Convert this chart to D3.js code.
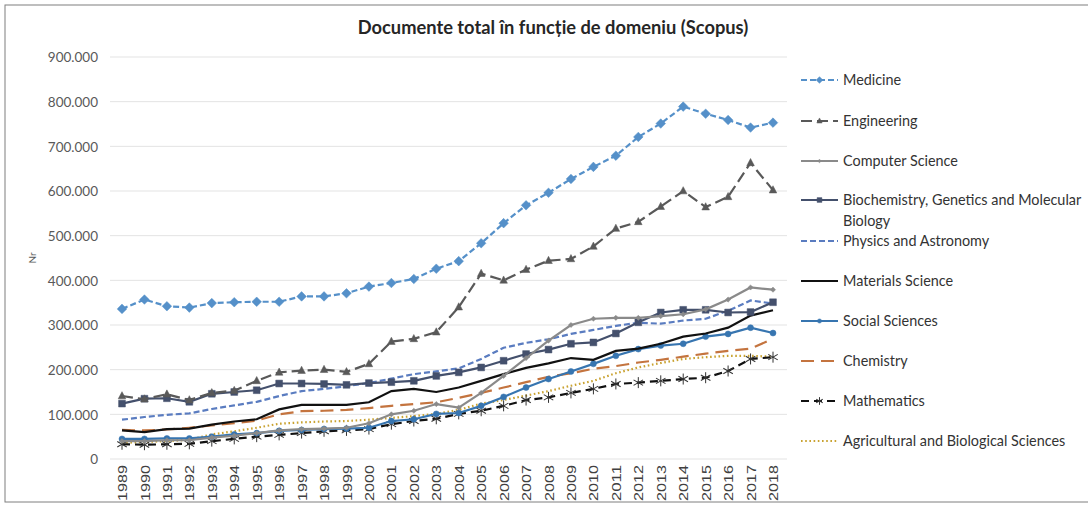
<!DOCTYPE html>
<html>
<head>
<meta charset="utf-8">
<script src="https://cdn.jsdelivr.net/npm/d3@7"></script>
<style>
  body { margin: 0; background: #fff; }
  text { font-family: Lato, "Open Sans", sans-serif; }
</style>
</head>
<body>
<div class="canva"></div>
<script>
const years = d3.range(1989, 2019).map(String);
const yTicks = [0, 100000, 200000, 300000, 400000, 500000, 600000, 700000, 800000, 900000];

const medicine = [336000, 357000, 342000, 339000, 349000, 351000, 352000, 352000, 364000, 364000, 371000, 386000, 394000, 403000, 426000, 443000, 483000, 528000, 568000, 596000, 627000, 654000, 679000, 721000, 751000, 789000, 773000, 759000, 742000, 753000];
const engineering = [141000, 134000, 145000, 132000, 148000, 153000, 175000, 194000, 198000, 200000, 195000, 213000, 263000, 269000, 284000, 340000, 415000, 400000, 424000, 444000, 448000, 476000, 516000, 531000, 565000, 600000, 564000, 587000, 663000, 602000];
const computerScience = [40000, 40000, 42000, 42000, 48000, 52000, 58000, 64000, 67000, 68000, 70000, 80000, 100000, 108000, 123000, 115000, 148000, 186000, 226000, 265000, 300000, 314000, 316000, 316000, 320000, 324000, 335000, 357000, 384000, 379000];
const biochemistry = [124000, 135000, 136000, 128000, 146000, 150000, 154000, 169000, 169000, 168000, 166000, 170000, 172000, 175000, 186000, 194000, 205000, 220000, 235000, 245000, 258000, 261000, 281000, 306000, 328000, 334000, 334000, 328000, 329000, 351000];
const physics = [88000, 94000, 99000, 102000, 112000, 120000, 128000, 141000, 152000, 157000, 163000, 170000, 180000, 190000, 196000, 203000, 224000, 249000, 260000, 268000, 280000, 289000, 298000, 305000, 303000, 310000, 314000, 332000, 355000, 348000];
const materials = [64000, 60000, 67000, 68000, 77000, 84000, 89000, 111000, 121000, 121000, 121000, 127000, 152000, 157000, 150000, 160000, 175000, 190000, 204000, 214000, 226000, 222000, 242000, 247000, 258000, 274000, 281000, 294000, 321000, 333000];
const socialSciences = [45000, 45000, 46000, 46000, 50000, 55000, 58000, 63000, 65000, 67000, 68000, 70000, 85000, 89000, 101000, 103000, 119000, 139000, 160000, 179000, 196000, 213000, 231000, 246000, 254000, 258000, 274000, 280000, 294000, 282000];
const chemistry = [65000, 64000, 66000, 70000, 75000, 80000, 86000, 100000, 107000, 108000, 110000, 114000, 119000, 123000, 127000, 137000, 148000, 160000, 172000, 184000, 192000, 202000, 208000, 216000, 222000, 229000, 236000, 242000, 247000, 269000];
const mathematics = [33000, 32000, 33000, 34000, 40000, 45000, 50000, 54000, 58000, 62000, 64000, 67000, 78000, 85000, 90000, 101000, 108000, 119000, 132000, 138000, 148000, 157000, 168000, 171000, 175000, 179000, 182000, 197000, 224000, 228000];
const agricultural = [36000, 38000, 40000, 43000, 55000, 62000, 70000, 79000, 82000, 84000, 85000, 88000, 92000, 96000, 101000, 110000, 124000, 132000, 142000, 152000, 164000, 175000, 192000, 205000, 215000, 224000, 228000, 231000, 231000, 229000];

const series = [
    {name: "Medicine", values: medicine, color: "#5590c9", dash: "6,3", marker: "diamond", size: 4.8},
    {name: "Engineering", values: engineering, color: "#595959", dash: "11,5", marker: "triangle", size: 3.8},
    {name: "Computer Science", values: computerScience, color: "#8a8a8a", dash: null, marker: "diamond", size: 2.6},
    {name: ["Biochemistry, Genetics and Molecular", "Biology"], values: biochemistry, color: "#44506c", dash: null, marker: "square", size: 3.4},
    {name: "Physics and Astronomy", values: physics, color: "#5a7cc0", dash: "6,3", marker: null},
    {name: "Materials Science", values: materials, color: "#111111", dash: null, marker: null},
    {name: "Social Sciences", values: socialSciences, color: "#3775b0", dash: null, marker: "circle", size: 3},
    {name: "Chemistry", values: chemistry, color: "#c4743f", dash: "13,7", marker: null},
    {name: "Mathematics", values: mathematics, color: "#111111", dash: "8,5", marker: "star", size: 5.5},
    {name: "Agricultural and Biological Sciences", values: agricultural, color: "#c9a230", dash: "1.6,2.6", marker: null}
];

const svg = d3.select(".canva").append("svg")
    .attr("width", 1088)
    .attr("height", 513);

// outer frame
svg.append("rect")
    .attr("x", 5).attr("y", 5)
    .attr("width", 1100).attr("height", 497)
    .attr("fill", "none")
    .attr("stroke", "#7f7f7f")
    .attr("stroke-width", 1);

const x = d3.scalePoint().domain(years).range([122, 773]);
const y = d3.scaleLinear().domain([0, 900000]).range([459, 57]);

// grid
svg.append("g").selectAll("line")
    .data(yTicks)
    .enter()
    .append("line")
    .attr("x1", 110).attr("x2", 787)
    .attr("y1", d => y(d)).attr("y2", d => y(d))
    .attr("stroke", "#e3e3e3")
    .attr("stroke-width", 1);

const yAxis = d3.axisLeft(y)
    .tickValues(yTicks)
    .tickSize(0)
    .tickPadding(0)
    .tickFormat(d => d3.format(",")(d).replace(/,/g, "."));

svg.append("g")
    .attr("transform", "translate(98, 0)")
    .call(yAxis)
    .call(g => g.select(".domain").remove())
    .selectAll("text")
    .attr("dy", "0.35em")
    .style("font-size", "13.5px")
    .style("font-family", "Lato, sans-serif")
    .style("fill", "#595959");

const xAxis = d3.axisBottom(x).tickSize(0).tickPadding(0);

svg.append("g")
    .attr("transform", "translate(0, 465)")
    .call(xAxis)
    .call(g => g.select(".domain").remove())
    .selectAll("text")
    .attr("transform", "rotate(-90)")
    .attr("text-anchor", "end")
    .attr("x", 0)
    .attr("y", 0)
    .attr("dy", "0.35em")
    .attr("textLength", 36)
    .attr("lengthAdjust", "spacingAndGlyphs")
    .style("font-size", "13px")
    .style("font-family", "Liberation Sans, sans-serif")
    .style("fill", "#404040");

svg.append("text")
    .attr("transform", "translate(36, 258) rotate(-90)")
    .attr("text-anchor", "middle")
    .style("font-size", "10px")
    .style("fill", "#595959")
    .text("Nr");

svg.append("text")
    .attr("x", 553)
    .attr("y", 34)
    .attr("text-anchor", "middle")
    .style("font-size", "18.3px")
    .style("font-weight", "bold")
    .style("fill", "#262626")
    .text("Documente total în funcție de domeniu (Scopus)");

// marker shapes, r = half size in px
function markerPath(type, r) {
    if (type === "diamond") return `M0,${-r}L${r},0L0,${r}L${-r},0Z`;
    if (type === "square") return `M${-r},${-r}H${r}V${r}H${-r}Z`;
    if (type === "triangle") return `M0,${-r * 1.15}L${r},${r * 0.75}L${-r},${r * 0.75}Z`;
    if (type === "circle") return d3.arc()({innerRadius: 0, outerRadius: r, startAngle: 0, endAngle: 2 * Math.PI});
    return "";
}

function drawMarker(g, s, cx, cy, k = 1) {
    if (!s.marker) return;
    const r = s.size * k;
    if (s.marker === "star") {
        const m = g.append("g").attr("transform", `translate(${cx},${cy})`);
        [0, 60, 120].forEach(a => {
            m.append("line")
                .attr("x1", -r).attr("x2", r).attr("y1", 0).attr("y2", 0)
                .attr("transform", `rotate(${a + 90})`)
                .attr("stroke", "#333")
                .attr("stroke-width", 1);
        });
        return;
    }
    g.append("path")
        .attr("transform", `translate(${cx},${cy})`)
        .attr("d", markerPath(s.marker, r))
        .attr("fill", s.color)
        .attr("stroke", s.color)
        .attr("stroke-width", 0.5);
}

const line = d3.line()
    .x((d, i) => x(years[i]))
    .y(d => y(d));

// reverse order so medicine ends up on top
const plot = svg.append("g");
series.slice().reverse().forEach(s => {
    const g = plot.append("g");
    g.append("path")
        .datum(s.values)
        .attr("fill", "none")
        .attr("stroke", s.color)
        .attr("stroke-width", 2.2)
        .attr("stroke-dasharray", s.dash)
        .attr("d", line);
    s.values.forEach((v, i) => drawMarker(g, s, x(years[i]), y(v)));
});

// legend
const legendRows = [80, 121, 161, 200, 241, 281, 321, 361, 401, 441];
const legend = svg.append("g");
series.forEach((s, i) => {
    const ly = legendRows[i];
    const g = legend.append("g");
    g.append("line")
        .attr("x1", 801).attr("x2", 838)
        .attr("y1", ly).attr("y2", ly)
        .attr("stroke", s.color)
        .attr("stroke-width", 2.2)
        .attr("stroke-dasharray", s.dash);
    drawMarker(g, s, 819.5, ly, 0.7);
    const names = Array.isArray(s.name) ? s.name : [s.name];
    names.forEach((n, j) => {
        g.append("text")
            .attr("x", 843)
            .attr("y", ly + j * 21)
            .attr("dy", "0.35em")
            .style("font-size", "14.4px")
            .style("fill", "#333333")
            .text(n);
    });
});
</script>
</body>
</html>
